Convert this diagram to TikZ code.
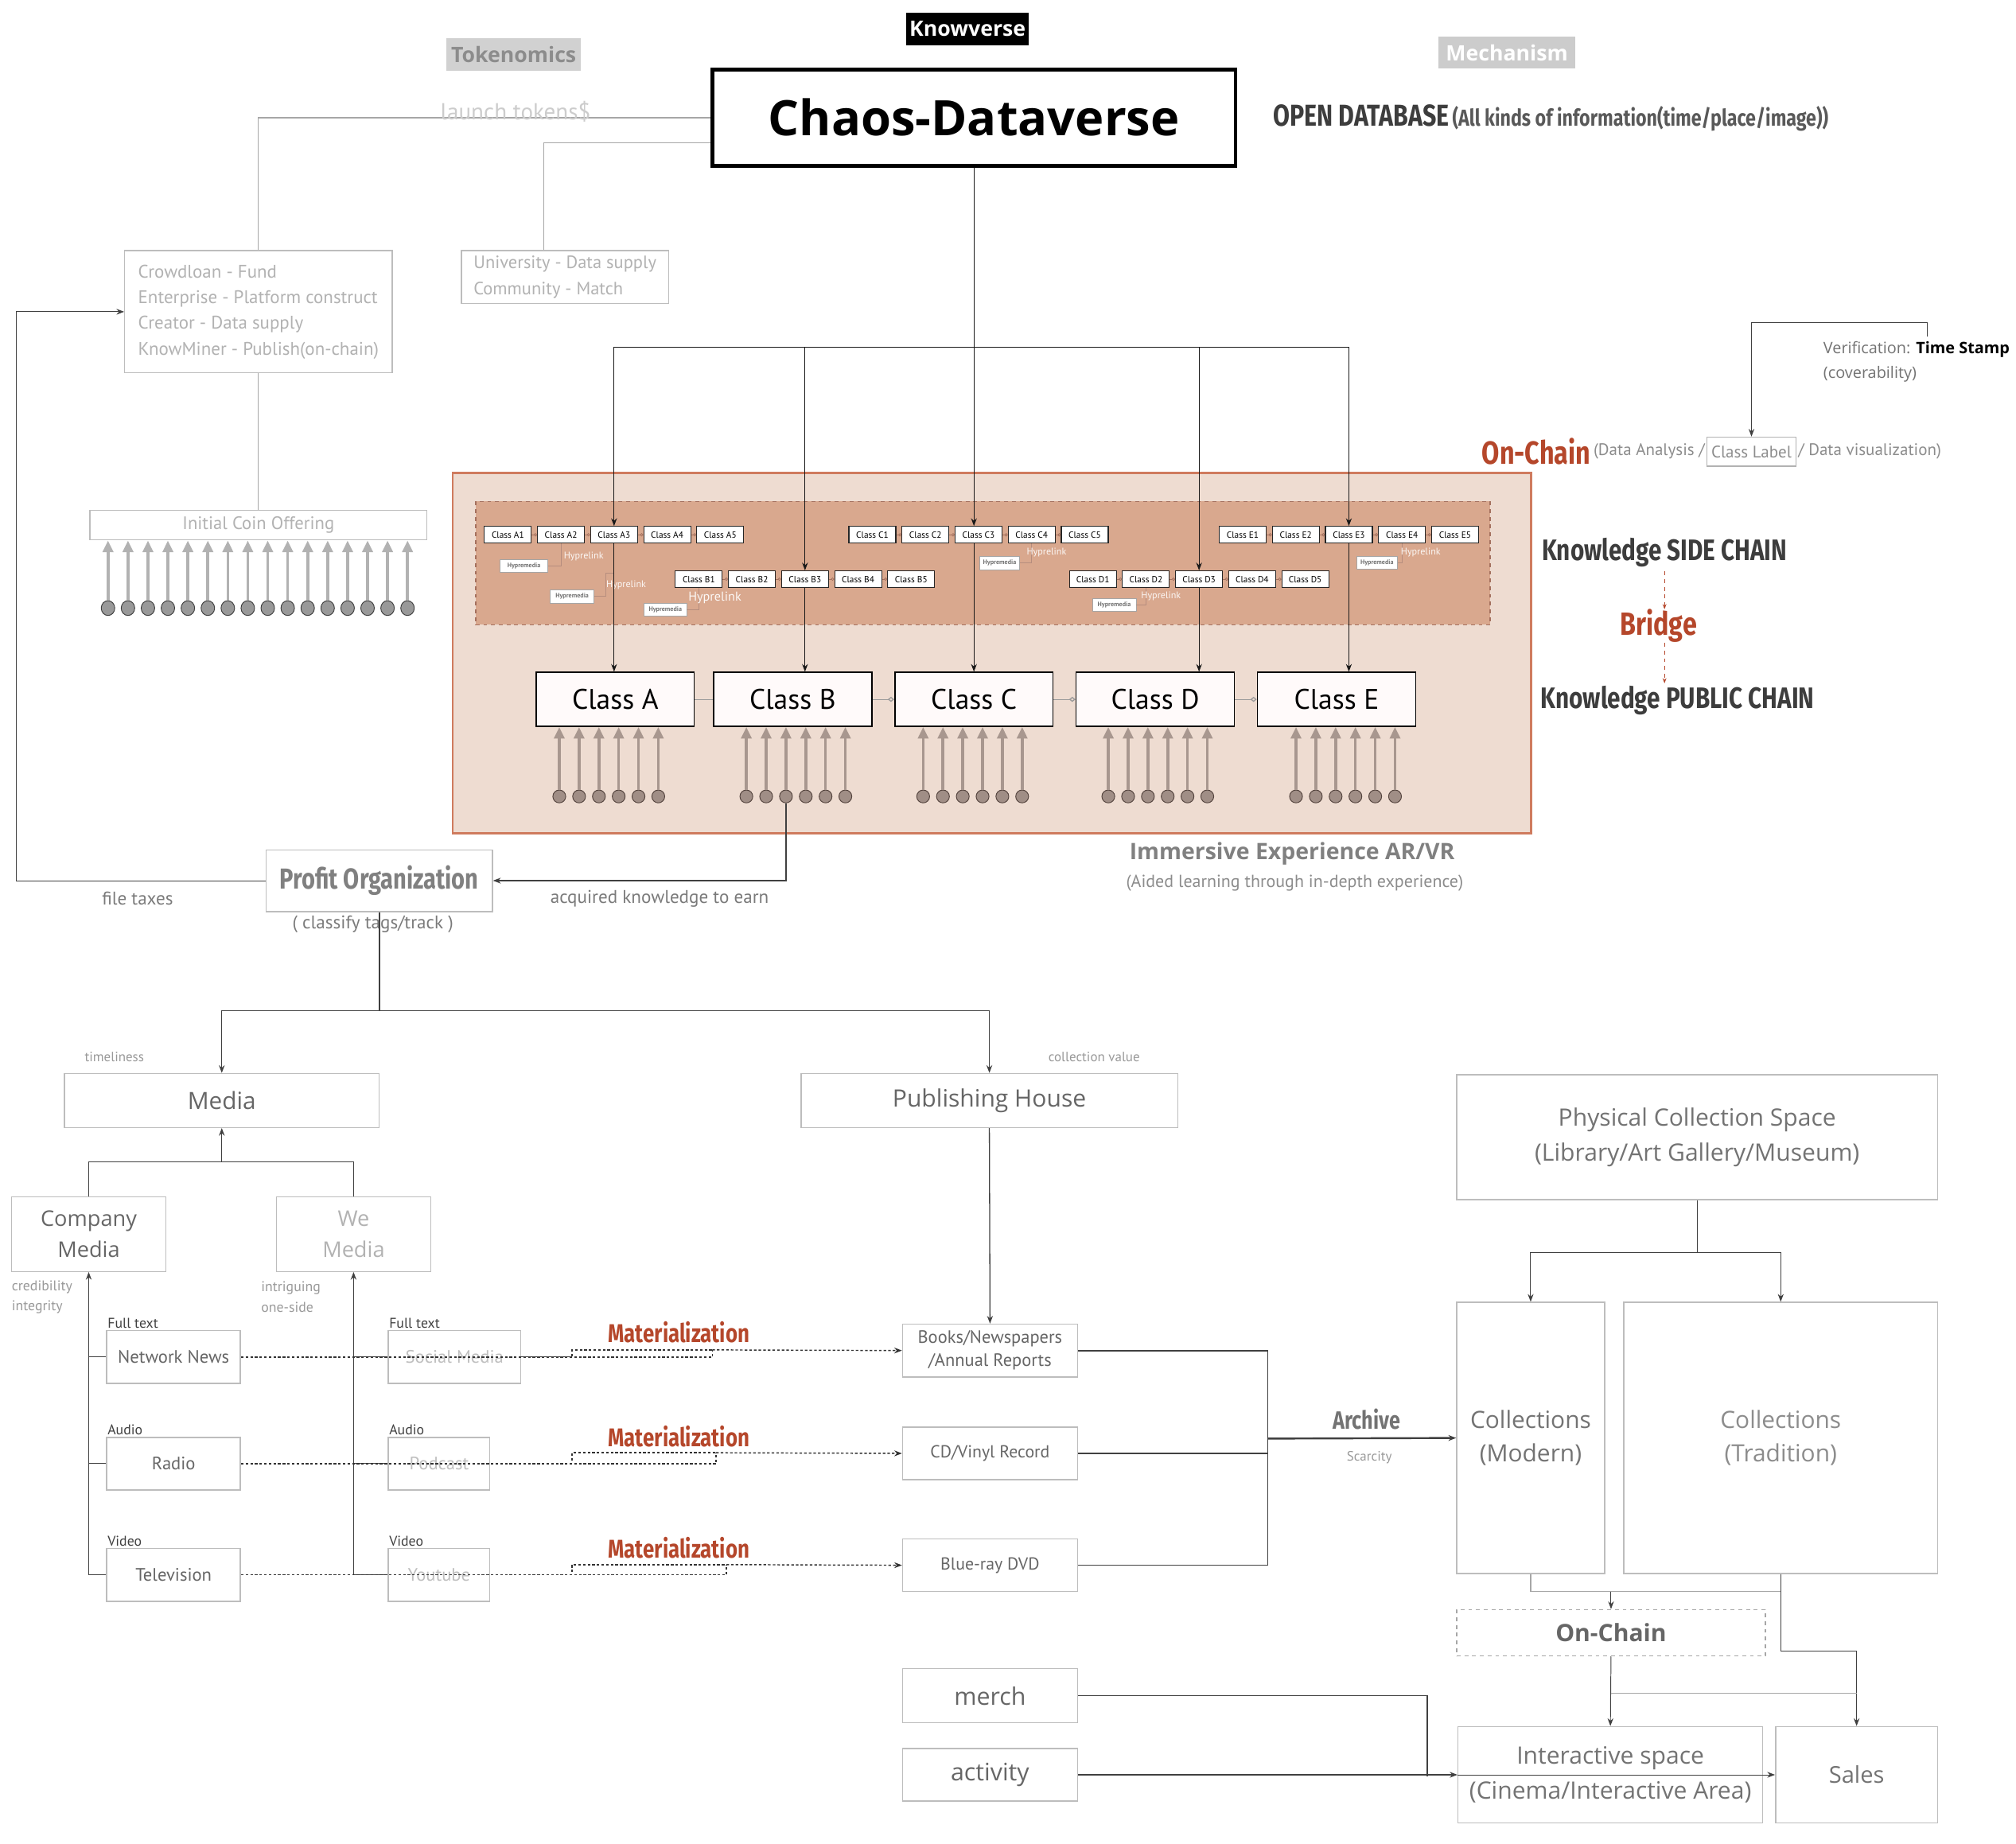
\documentclass[tikz,border=0pt]{standalone}
\usepackage{fontspec}
\setmainfont{Open Sans}
\newfontfamily\pt{PT Sans}
\newfontfamily\hd[FakeStretch=0.8]{Fira Sans}
\usetikzlibrary{arrows.meta, positioning, shapes.geometric}

\definecolor{boxline}{HTML}{BDBDBD}
\definecolor{paletext}{HTML}{B2B2B2}
\definecolor{midtext}{HTML}{7A7A7A}
\definecolor{darktext}{HTML}{3D3D3D}
\definecolor{rust}{HTML}{B5472B}
\definecolor{zonefill}{HTML}{EEDCD1}
\definecolor{zoneline}{HTML}{CF7B5E}
\definecolor{sidefill}{HTML}{D9A88E}
\definecolor{sideline}{HTML}{A4705E}
\definecolor{coinfill}{HTML}{A08E86}
\definecolor{coinline}{HTML}{54443E}
\definecolor{stemcol}{HTML}{A8978F}

\newcommand\fs[2]{\fontsize{#1}{#2}\selectfont}

\tikzset{
  box/.style={draw=boxline, line width=0.9pt, fill=white, inner sep=0pt, align=center},
  tagbox/.style={fill=#1, inner sep=0pt, minimum height=25, font=\bfseries\fs{16.5}{18}},
  subbox/.style={draw=black!85, fill=white, line width=0.7pt, minimum width=36.5, minimum height=13, inner sep=0pt, font=\pt\fs{7}{8}},
  hmbox/.style={draw=black!35, fill=white, line width=0.5pt, minimum height=10, inner sep=0pt, text=black!55, font=\pt\bfseries\fs{5}{6}},
  hyperline/.style={draw=sideline!80, line width=0.5pt},
  hyptext/.style={text=white!92!sidefill, font=\pt\fs{7.5}{8}},
  bigbox/.style={draw=black, fill=white!98!red, line width=1pt, minimum width=123, minimum height=42, inner sep=0pt, font=\pt\fs{22}{24}},
  coin/.style={ellipse, draw=black!75, fill=black!40, line width=0.6pt, minimum width=10.5, minimum height=11.5, inner sep=0pt},
  tcoin/.style={ellipse, draw=coinline, fill=coinfill, line width=0.6pt, minimum width=10, minimum height=10, inner sep=0pt},
  fatarrow/.style={draw=#1, line width=2.2pt, -{Triangle[length=9pt,width=8pt]}},
  trunk/.style={draw=black!90, line width=0.7pt},
  darklink/.style={draw=black!75, line width=0.8pt},
  graylink/.style={draw=black!35, line width=0.8pt},
  dotline/.style={draw=black!80, line width=0.9pt, dash pattern=on 2pt off 1.6pt},
  arr/.style={-{Stealth[length=6pt,width=4.5pt]}},
  subjoin/.style={draw=sideline, line width=0.5pt, -{Circle[open,length=2.5pt,width=2.5pt]}},
  bigjoin/.style={draw=black!40, line width=0.8pt, -{Diamond[open,length=5pt,width=4pt]}},
  notetxt/.style={inner sep=0pt, text=midtext, font=\pt\fs{14.3}{16}},
  headtxt/.style={inner sep=0pt, font=\hd\bfseries\fs{23}{26}},
  palebox/.style={box, text=black!25, font=\pt\fs{14}{16}},
  plainbox/.style={box, text=black!60, font=\pt\fs{14}{16}}
}

\begin{document}
\begin{tikzpicture}[x=1pt, y=-1pt]
\useasboundingbox (0,0) rectangle (1568,1434);

% top labels
\node[tagbox=black, text=white, minimum width=95] (know) at (752.5,22.5) {Knowverse};
\node[tagbox=black!18, text=black!45, minimum width=105] (token) at (399.5,42.5) {Tokenomics};
\node[tagbox=black!20, text=white, minimum width=106] (mech) at (1172,41) {Mechanism};

\node[draw, line width=3pt, minimum width=407, minimum height=75, inner sep=0pt, font=\bfseries\fs{38}{42}] (chaos) at (757.5,91.5) {Chaos-Dataverse};
\node[anchor=west, inner sep=0pt, text=darktext] (opendb) at (990,92) {{\hd\bfseries\fs{23.5}{26}OPEN DATABASE} {\hd\bfseries\fs{18}{20}\color{black!65}(All kinds of information(time/place/image))}};

% tokenomics side
\node[box, minimum width=208, minimum height=95, align=left, text=paletext, font=\pt\fs{14.2}{20}] (crowd) at (201,242.5)
  {Crowdloan - Fund\\Enterprise - Platform construct\\Creator - Data supply\\KnowMiner - Publish(on-chain)};
\node[box, minimum width=161, minimum height=41, align=left, text=paletext, font=\pt\fs{13.9}{20}] (univ) at (439.5,215.5)
  {University - Data supply\\Community - Match};
\draw[graylink] (chaos.west) -| (crowd.north);
\draw[graylink] (chaos.west) ++(0,19.5) -| ([xshift=-16.5pt]univ.north);
\node[text=black!20, inner sep=0pt, font=\pt\fs{18}{20}] (launch) at (401,87) {launch tokens\$};

\node[box, minimum width=262, minimum height=23, text=paletext, font=\pt\fs{14}{16}] (ico) at (201,408.5) {Initial Coin Offering};
\draw[graylink] (crowd.south) -- (ico.north);
\foreach \i in {0,...,15} {
  \node[coin] (ico\i) at ({84+15.53*\i},473) {};
  \draw[fatarrow=black!30] (ico\i.north) -- (ico\i.north |- ico.south);
}

% knowledge chains
\draw[draw=zoneline, fill=zonefill, line width=1.6pt] (352,368) rectangle (1191,648);
\draw[draw=sideline, fill=sidefill, dashed, line width=0.8pt] (370,390) rectangle (1159,486);

\foreach \r/\x/\y in {A/395/416, B/543.5/450.5, C/678.5/416, D/850/450.5, E/966.5/416} {
  \foreach \k in {1,...,5}
    \node[subbox] (\r\k) at ({\x+41.3*(\k-1)},\y) {Class \r\k};
  \foreach \k in {1,...,4} {
    \pgfmathtruncatemacro\nx{\k+1}
    \draw[subjoin] (\r\k.east) -- (\r\nx.west);
  }
}

% hypermedia
\node[hmbox, minimum width=37] (hA1) at (407.5,440) {Hypremedia};
\node[hmbox, minimum width=34] (hA2) at (445,464) {Hypremedia};
\node[hmbox, minimum width=33] (hB) at (517.5,474) {Hypremedia};
\node[hmbox, minimum width=31] (hC) at (777.5,438) {Hypremedia};
\node[hmbox, minimum width=34] (hD) at (866.6,470.5) {Hypremedia};
\node[hmbox, minimum width=31.5] (hE) at (1071,437.5) {Hypremedia};
\coordinate (hA2t) at (478,446);
\draw[hyperline] (A2.south) |- (hA1.east);
\draw[hyperline] (hA2.east) -| ([xshift=-7pt]hA2t) -- (hA2t);
\draw[hyperline] (B1.south) |- (hB.east);
\draw[hyperline] (C4.south) |- (hC.east);
\draw[hyperline] (D2.south) |- (hD.east);
\draw[hyperline] (E4.south) |- (hE.east);
\node[hyptext] at (454,432.5) {Hyprelink};
\node[hyptext] at (487,455) {Hyprelink};
\node[hyptext, font=\pt\fs{10}{11}] at (556,465) {Hyprelink};
\node[hyptext] at (814,429.5) {Hyprelink};
\node[hyptext] at (903,463.5) {Hyprelink};
\node[hyptext] at (1105,429.5) {Hyprelink};

% public chain
\foreach \r/\x in {A/478.5, B/616.5, C/757.5, D/898.5, E/1039.5}
  \node[bigbox] (class\r) at (\x,544) {Class \r};
\draw[draw=black!40, line width=0.8pt] (classA) -- (classB);
\draw[bigjoin] (classB) -- (classC);
\draw[bigjoin] (classC) -- (classD);
\draw[bigjoin] (classD) -- (classE);

\foreach \r/\o in {A/-5, B/2.5, C/-1, D/2, E/7}
  \foreach \k in {0,...,5} {
    \node[tcoin] (c\r\k) at ([xshift={\o pt-38.5pt+15.4pt*\k}, yshift=-54pt]class\r.south) {};
    \draw[fatarrow=stemcol] (c\r\k.north) -- (c\r\k.north |- class\r.south);
  }

% data flow from the database
\coordinate (fork) at (757.5,270);
\draw[trunk] (A3.north |- fork) -- (E3.north |- fork);
\draw[trunk, arr] (chaos.south) -- (chaos.south |- C3.north);
\foreach \r in {A,B,D,E} {
  \draw[trunk, arr] (\r3.north |- fork) -- (\r3.north);
  \draw[trunk, arr] (\r3.south) -- (\r3.south |- class\r.north);
}
\draw[trunk, arr] (chaos.south |- C3.south) -- (chaos.south |- classC.north);

% right column
\node[anchor=west, inner sep=0pt, font=\fs{12.3}{14}] (verif) at (1418,272) {\color{black!55}Verification: \color{black}\bfseries Time Stamp};
\node[anchor=west, inner sep=0pt, text=black!55, font=\fs{12.3}{14}] at (1418,291) {(coverability)};
\node[draw=black!30, line width=0.8pt, minimum width=69.5, minimum height=22.6, inner sep=0pt, text=black!45, font=\pt\fs{13}{14}] (clabel) at (1362.25,351.3) {Class Label};
\node[anchor=east, inner sep=1pt, text=black!45, font=\pt\fs{13}{14}] (dana) at (clabel.west) {(Data Analysis /};
\node[anchor=west, inner sep=1pt, text=black!45, font=\pt\fs{13}{14}] at (clabel.east) {/ Data visualization)};
\node[anchor=east, inner sep=1pt, text=rust, font=\hd\bfseries\fs{25}{26}] at (dana.west) {On-Chain};
\coordinate (tsmark) at (1499,262);
\draw[darklink, line width=0.6pt, arr] (tsmark) -- ++(0,-11) -| (clabel.north);

\node[headtxt, anchor=west, text=darktext] (side) at (1199,430) {Knowledge SIDE CHAIN};
\node[headtxt, text=rust, font=\hd\bfseries\fs{25}{26}] (bridge) at (1290,487) {Bridge};
\node[headtxt, anchor=west, text=darktext] (public) at (1198,545) {Knowledge PUBLIC CHAIN};
\draw[rust, dashed, line width=0.6pt, -{Stealth[length=4pt,width=3pt]}] (side.south) ++(0,3) -- (bridge.north -| side.south);
\draw[rust, dashed, line width=0.6pt, -{Stealth[length=4pt,width=3pt]}] (bridge.south -| side.south) -- ([yshift=2pt]public.north -| side.south);

\node[text=black!50, inner sep=0pt, font=\bfseries\fs{17.6}{20}] at (1005,664) {Immersive Experience AR/VR};
\node[text=black!45, inner sep=0pt, font=\pt\fs{13.6}{15}] at (1007,687) {(Aided learning through in-depth experience)};

% profit organization
\node[box, minimum width=176, minimum height=48, text=black!50, font=\hd\bfseries\fs{22.5}{24}] (profit) at (295,685) {Profit Organization};
\draw[darklink, arr] (cB2.south) |- (profit.east);
\draw[darklink, line width=0.6pt, arr] (profit.west) -- ++(-194,0) |- (crowd.west);
\node[notetxt] at (107,699) {file taxes};
\node[notetxt] at (513,699) {acquired knowledge to earn};
\coordinate (mfork) at (295,786);
\draw[darklink, line width=1pt] (profit.south) -- (mfork);
\node[notetxt] at (290,719) {( classify tags/track )};

% media
\node[box, minimum width=245, minimum height=42, text=black!60, font=\fs{18.4}{20}] (media) at (172.5,856) {Media};
\node[box, minimum width=293, minimum height=42, text=black!60, font=\fs{18.6}{20}] (pub) at (769.5,856) {Publishing House};
\draw[darklink, arr] (mfork) -| (media.north);
\draw[darklink, arr] (mfork) -| (pub.north);
\node[notetxt, text=black!40, font=\pt\fs{10.5}{12}] at (89,822) {timeliness};
\node[notetxt, text=black!40, font=\pt\fs{10.5}{12}] at (851,822) {collection value};

\node[box, minimum width=120, minimum height=58, text=black!60, font=\fs{16.8}{24}] (cmedia) at (69,960) {Company\\Media};
\node[box, minimum width=120, minimum height=58, text=black!30, font=\fs{16.8}{24}] (wmedia) at (275,960) {We\\Media};
\coordinate (mjoin) at (172.5,904);
\draw[darklink] (cmedia.north) -- ++(0,-27) -| (wmedia.north);
\draw[darklink, arr] (mjoin) -- (media.south);
\node[notetxt, anchor=west, text=black!40, font=\pt\fs{11}{16}, align=left] at (9,1009) {credibility\\integrity};
\node[notetxt, anchor=west, text=black!40, font=\pt\fs{11}{16}, align=left] at (203,1009) {intriguing\\one-side};

\node[plainbox, minimum width=104, minimum height=41] (netnews) at (135,1055.5) {Network News};
\node[plainbox, minimum width=104, minimum height=41] (radio) at (135,1138.5) {Radio};
\node[plainbox, minimum width=104, minimum height=41] (tv) at (135,1225) {Television};
\node[palebox, minimum width=103, minimum height=41] (social) at (353.5,1055.5) {Social Media};
\node[palebox, minimum width=79, minimum height=41] (podcast) at (341.5,1138.5) {Podcast};
\node[palebox, minimum width=79, minimum height=41] (youtube) at (341.5,1225) {Youtube};
\foreach \b/\t in {netnews/Full text, radio/Audio, tv/Video, social/Full text, podcast/Audio, youtube/Video}
  \node[anchor=south west, inner sep=1pt, text=black!75, font=\pt\fs{11}{12}] at (\b.north west) {\t};

\draw[darklink, line width=0.6pt, arr] (tv.west) -| (cmedia.south);
\draw[darklink, line width=0.6pt] (netnews.west) -- (netnews.west -| cmedia.south);
\draw[darklink, line width=0.6pt] (radio.west) -- (radio.west -| cmedia.south);
\draw[darklink, line width=0.6pt, arr] (youtube.west) -| (wmedia.south);
\draw[darklink, line width=0.6pt] (social.west) -- (social.west -| wmedia.south);
\draw[darklink, line width=0.6pt] (podcast.west) -- (podcast.west -| wmedia.south);

% materialization
\node[plainbox, minimum width=136, minimum height=41, font=\pt\fs{13.9}{18}] (books) at (770,1050.5) {Books/Newspapers\\/Annual Reports};
\node[plainbox, minimum width=136, minimum height=41, font=\pt\fs{13.5}{16}] (cd) at (770,1130.5) {CD/Vinyl Record};
\node[plainbox, minimum width=136, minimum height=41, font=\pt\fs{13.5}{16}] (blu) at (770,1217.5) {Blue-ray DVD};
\draw[darklink, arr] (pub.south) -- (books.north);

\coordinate (m1a) at (445,1050); \coordinate (m1b) at (554,1050);
\coordinate (m2a) at (445,1130); \coordinate (m2b) at (557,1130);
\coordinate (m3a) at (445,1217); \coordinate (m3b) at (565,1217);
\draw[dotline] (netnews.east) -- (m1b |- netnews.east) -- (m1b);
\draw[darklink] (social.east) -- (m1a |- social.east);
\draw[dotline] (m1a) ++(0,5) -- (m1a) -- (m1b);
\draw[dotline, arr] (m1b) -- (books.west);
\draw[dotline] (radio.east) -- (m2b |- radio.east) -- (m2b);
\draw[dotline] (m2a) ++(0,6) -- (m2a) -- (m2b);
\draw[dotline, arr] (m2b) -- (cd.west);
\draw[dotline] (tv.east) -- (m3b |- tv.east) -- (m3b);
\draw[dotline] (m3a) ++(0,6) -- (m3a) -- (m3b);
\draw[dotline, arr] (m3b) -- (blu.west);
\foreach \y in {1036,1117,1204}
  \node[inner sep=0pt, text=rust, font=\hd\bfseries\fs{20}{22}] at (528,\y) {Materialization};

% archive
\node[box, minimum width=374, minimum height=97, text=black!55, font=\fs{18.6}{27}] (phys) at (1320,884.5) {Physical Collection Space\\(Library/Art Gallery/Museum)};
\node[box, minimum width=115, minimum height=211, text=black!55, font=\fs{18.5}{26}] (modern) at (1190.5,1118.5) {Collections\\(Modern)};
\node[box, minimum width=244, minimum height=211, text=black!45, font=\fs{18.5}{26}] (trad) at (1385,1118.5) {Collections\\(Tradition)};
\coordinate (arch) at (986,1119);
\draw[darklink, line width=1pt] (books.east) -- (books.east -| arch) -- (blu.east -| arch) -- (blu.east);
\draw[darklink, line width=1pt] (cd.east) -- (cd.east -| arch);
\draw[darklink, line width=1.5pt, arr] (arch) -- (modern.west);
\node[inner sep=0pt, text=black!55, font=\hd\bfseries\fs{19.5}{20}] at (1063,1104) {Archive};
\node[inner sep=0pt, text=black!40, font=\pt\fs{10.5}{12}] at (1065,1134) {Scarcity};

\coordinate (pfork) at (1320,974);
\draw[darklink, line width=0.6pt] (phys.south) -- (pfork);
\draw[darklink, line width=0.6pt, arr] (pfork) -| (modern.north);
\draw[darklink, line width=0.6pt, arr] (pfork) -| (trad.north);

\node[box, dashed, draw=black!35, minimum width=240, minimum height=36, text=black!60, font=\bfseries\fs{18.6}{20}] (onc) at (1253,1270) {On-Chain};
\node[box, minimum width=237, minimum height=75, text=black!55, font=\fs{18.6}{27}] (inter) at (1252.5,1380.5) {Interactive space\\(Cinema/Interactive Area)};
\node[box, minimum width=126, minimum height=75, text=black!55, font=\fs{18}{20}] (sales) at (1444,1380.5) {Sales};
\coordinate (cjoin) at (1253,1238);
\coordinate (tturn) at (1444,1284);
\coordinate (ojoin) at (1253,1317);
\draw[graylink] (modern.south) |- (cjoin -| trad.south);
\draw[darklink, line width=0.6pt, arr] (cjoin) -- (onc.north);
\draw[darklink, line width=0.6pt, arr] (trad.south) |- (tturn) -- (sales.north);
\draw[darklink, line width=0.6pt, arr] (onc.south) -- (inter.north);
\draw[graylink] (ojoin) -- (ojoin -| sales.north);

\node[plainbox, minimum width=136, minimum height=42, font=\fs{18.8}{20}] (merch) at (770,1319) {merch};
\node[plainbox, minimum width=136, minimum height=41, font=\fs{18.8}{20}] (activity) at (770,1380.5) {activity};
\coordinate (mturn) at (1110,1382);
\draw[darklink] (merch.east) -| (mturn);
\draw[darklink, arr] (activity.east) -- (inter.west);
\draw[darklink, line width=0.6pt, arr] (inter.west) -- (sales.west);
\end{tikzpicture}
\end{document}
